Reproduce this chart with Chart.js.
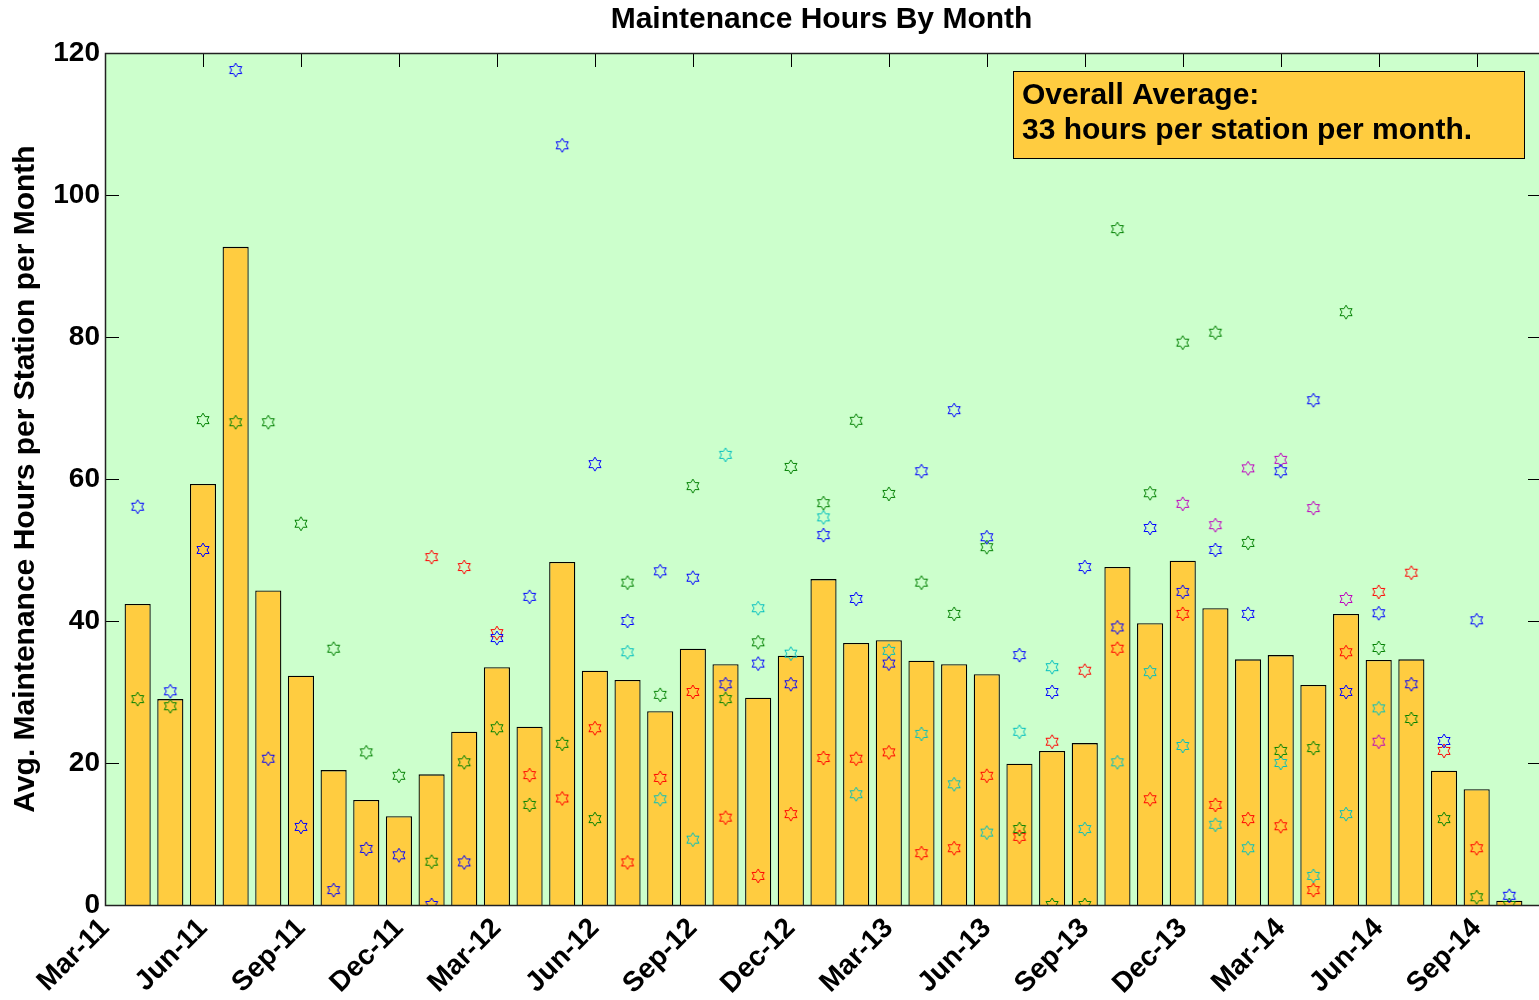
<!DOCTYPE html>
<html>
<head>
<meta charset="utf-8">
<title>Maintenance Hours By Month</title>
<script src="https://cdn.jsdelivr.net/npm/chart.js@4.4.1/dist/chart.umd.min.js"></script>
<style>
    body { margin: 0; background: #fff; overflow: hidden; }
    #wrap { width: 1550px; height: 1000px; }
</style>
</head>
<body>
<div id="wrap"><canvas id="myChart"></canvas></div>
<script>
// quarter labels, one every 3 months starting at Mar-11 (x = 0)
var tickLabels = ['Mar-11', 'Jun-11', 'Sep-11', 'Dec-11', 'Mar-12', 'Jun-12', 'Sep-12', 'Dec-12',
    'Mar-13', 'Jun-13', 'Sep-13', 'Dec-13', 'Mar-14', 'Jun-14', 'Sep-14'];

// monthly average over all stations (months 1..43 after Mar-11)
var avgHours = [42.4, 29.0, 59.3, 92.7, 44.3, 32.3, 19.0, 14.8, 12.5, 18.4, 24.4, 33.5, 25.1, 48.3,
    33.0, 31.7, 27.3, 36.1, 33.9, 29.2, 35.1, 45.9, 36.9, 37.3, 34.4, 33.9, 32.5, 19.9, 21.7, 22.8,
    47.6, 39.7, 48.5, 41.8, 34.6, 35.2, 31.0, 41.0, 34.5, 34.6, 18.9, 16.3, 0.6];

// hours per station, null where the station was not running yet
var station1 = [56.1, 30.1, 50.0, 117.6, 20.6, 11.0, 2.1, 7.9, 7.0, 0, 6.0, 37.6, 43.4, 107.0,
    62.1, 40.0, 47.0, 46.1, 31.1, 34.0, 31.1, 52.1, 43.1, 34.0, 61.1, 69.7, 51.8, 35.2, 30.0, 47.6,
    39.1, 53.1, 44.1, 50.0, 41.0, 61.1, 71.1, 30.0, 41.1, 31.1, 23.1, 40.1, 1.3];
var station2 = [29.0, 28.0, 68.3, 68.0, 68.0, 53.7, 36.1, 21.5, 18.2, 6.1, 20.1, 24.9, 14.1, 22.7,
    12.1, 45.4, 29.6, 59.0, 29.0, 37.0, 61.7, 56.6, 68.2, 57.9, 45.4, 41.0, 50.4, 10.7, 0, 0,
    95.2, 58.0, 79.2, 80.6, 51.0, 21.7, 22.1, 83.5, 36.2, 26.2, 12.1, 1.1, 0];
var station3 = [null, null, null, null, null, null, null, null, null, 49.0, 47.6, 38.3, 18.3, 15.0,
    24.9, 6.0, 17.9, 30.0, 12.3, 4.1, 12.8, 20.7, 20.6, 21.5, 7.3, 8.0, 18.2, 9.6, 23.0, 33.0,
    36.1, 14.9, 41.0, 14.1, 12.1, 11.1, 2.1, 35.6, 44.1, 46.8, 21.7, 8.0, null];
var station4 = [null, null, null, null, null, null, null, null, null, null, null, null, null, null,
    null, 35.6, 14.9, 9.2, 63.4, 41.8, 35.4, 54.6, 15.6, 35.8, 24.1, 17.0, 10.2, 24.4, 33.5, 10.7,
    20.1, 32.8, 22.4, 11.3, 8.0, 20.0, 4.1, 12.8, 27.7, null, null, null, null];
var station5 = [null, null, null, null, null, null, null, null, null, null, null, null, null, null,
    null, null, null, null, null, null, null, null, null, null, null, null, null, null, null, null,
    null, null, 56.5, 53.5, 61.5, 62.7, 55.9, 43.1, 23.0, null, null, null, null];

var FONT = '"Liberation Sans", Arial, sans-serif';

// six pointed outline star used as point marker
function makeStar(color) {
    var c = document.createElement('canvas');
    c.width = 16;
    c.height = 16;
    var g = c.getContext('2d');
    g.strokeStyle = color;
    g.lineWidth = 1;
    g.beginPath();
    for (var k = 0; k < 12; k++) {
        var r = k % 2 === 0 ? 7 : 4.05;
        var a = -Math.PI / 2 + k * Math.PI / 6;
        var px = 8 + r * Math.cos(a), py = 8 + r * Math.sin(a);
        if (k === 0) g.moveTo(px, py); else g.lineTo(px, py);
    }
    g.closePath();
    g.stroke();
    return c;
}

function toPoints(arr) {
    var pts = [];
    for (var i = 0; i < arr.length; i++) {
        if (arr[i] !== null) pts.push({x: i + 1, y: arr[i]});
    }
    return pts;
}

function starSet(arr, color) {
    return {
        type: 'scatter',
        data: toPoints(arr),
        pointStyle: makeStar(color),
        pointRadius: 7,
        showLine: false,
        order: 1
    };
}

// green plot background
var plotBg = {
    id: 'plotBg',
    beforeDraw: function (chart) {
        var a = chart.chartArea, ctx = chart.ctx;
        ctx.save();
        ctx.fillStyle = '#ccffcc';
        ctx.fillRect(a.left, a.top, a.right - a.left, a.bottom - a.top);
        ctx.restore();
    }
};

// inward tick marks on all sides plus the axes box
var boxTicks = {
    id: 'boxTicks',
    beforeDatasetsDraw: function (chart) {
        var a = chart.chartArea, ctx = chart.ctx;
        var xs = chart.scales.x, ys = chart.scales.y;
        ctx.save();
        ctx.strokeStyle = '#000';
        ctx.lineWidth = 1;
        ctx.beginPath();
        for (var i = 0; i < tickLabels.length; i++) {
            var px = Math.round(xs.getPixelForValue(i * 3)) + 0.5;
            ctx.moveTo(px, a.top); ctx.lineTo(px, a.top + 14);
            ctx.moveTo(px, a.bottom); ctx.lineTo(px, a.bottom - 14);
        }
        for (var v = 0; v <= 120; v += 20) {
            var py = Math.round(ys.getPixelForValue(v)) + 0.5;
            ctx.moveTo(a.left, py); ctx.lineTo(a.left + 14, py);
            ctx.moveTo(a.right, py); ctx.lineTo(a.right - 14, py);
        }
        ctx.stroke();
        ctx.restore();
    },
    afterDatasetsDraw: function (chart) {
        var a = chart.chartArea, ctx = chart.ctx;
        ctx.save();
        ctx.strokeStyle = '#222';
        ctx.lineWidth = 1.5;
        ctx.strokeRect(Math.round(a.left) + 0.5, Math.round(a.top) + 0.5,
            Math.round(a.right - a.left), Math.round(a.bottom - a.top));
        ctx.restore();
    }
};

// title centred over the plot, and the boxed note in the upper right corner
var notes = {
    id: 'notes',
    afterDraw: function (chart) {
        var ctx = chart.ctx, a = chart.chartArea;
        ctx.save();
        ctx.fillStyle = '#000';
        ctx.font = 'bold 30px ' + FONT;
        ctx.textAlign = 'center';
        ctx.textBaseline = 'middle';
        ctx.fillText('Maintenance Hours By Month', (a.left + a.right) / 2 - 2, 20);

        ctx.fillStyle = '#ffcc40';
        ctx.fillRect(1013, 71, 511, 87);
        ctx.strokeStyle = '#000';
        ctx.lineWidth = 1;
        ctx.strokeRect(1013.5, 71.5, 511, 87);
        ctx.fillStyle = '#000';
        ctx.textAlign = 'left';
        ctx.textBaseline = 'alphabetic';
        ctx.fillText('Overall Average:', 1022, 104);
        ctx.fillText('33 hours per station per month.', 1022, 139);
        ctx.restore();
    }
};

var ctx = document.getElementById('myChart');
var myChart = new Chart(ctx, {
    type: 'bar',
    data: {
        datasets: [
            starSet(station1, '#0000ff'),
            starSet(station2, '#008000'),
            starSet(station3, '#ff0000'),
            starSet(station4, '#00bfbf'),
            starSet(station5, '#bf00bf'),
            {
                type: 'bar',
                data: toPoints(avgHours),
                backgroundColor: '#ffcc40',
                borderColor: '#000',
                borderWidth: 1.3,
                barPercentage: 0.8,
                categoryPercentage: 1.0,
                order: 10
            }
        ]
    },
    options: {
        responsive: true,
        maintainAspectRatio: false,
        animation: false,
        layout: { padding: { top: 53, right: 6, left: 0, bottom: 0 } },
        plugins: {
            legend: { display: false },
            tooltip: { enabled: false },
            title: { display: false }
        },
        scales: {
            x: {
                type: 'linear',
                min: 0,
                max: 44,
                offset: false,
                grid: { display: false, drawTicks: false },
                border: { display: false },
                ticks: {
                    stepSize: 3,
                    includeBounds: false,
                    autoSkip: false,
                    maxRotation: 45,
                    minRotation: 45,
                    padding: 7,
                    color: '#000',
                    font: { family: FONT, size: 28, weight: 'bold' },
                    callback: function (value) {
                        return value % 3 === 0 ? tickLabels[value / 3] : '';
                    }
                },
                afterFit: function (scale) { scale.height = 95; }
            },
            y: {
                min: 0,
                max: 120,
                grid: { display: false, drawTicks: false },
                border: { display: false },
                ticks: {
                    stepSize: 20,
                    padding: 5,
                    color: '#000',
                    font: { family: FONT, size: 28, weight: 'bold' }
                },
                title: {
                    display: true,
                    text: 'Avg. Maintenance Hours per Station per Month',
                    color: '#000',
                    font: { family: FONT, size: 30, weight: 'bold' },
                    padding: { top: 8, bottom: 0 }
                },
                afterFit: function (scale) { scale.width = 105; }
            }
        }
    },
    plugins: [plotBg, boxTicks, notes]
});
</script>
</body>
</html>
